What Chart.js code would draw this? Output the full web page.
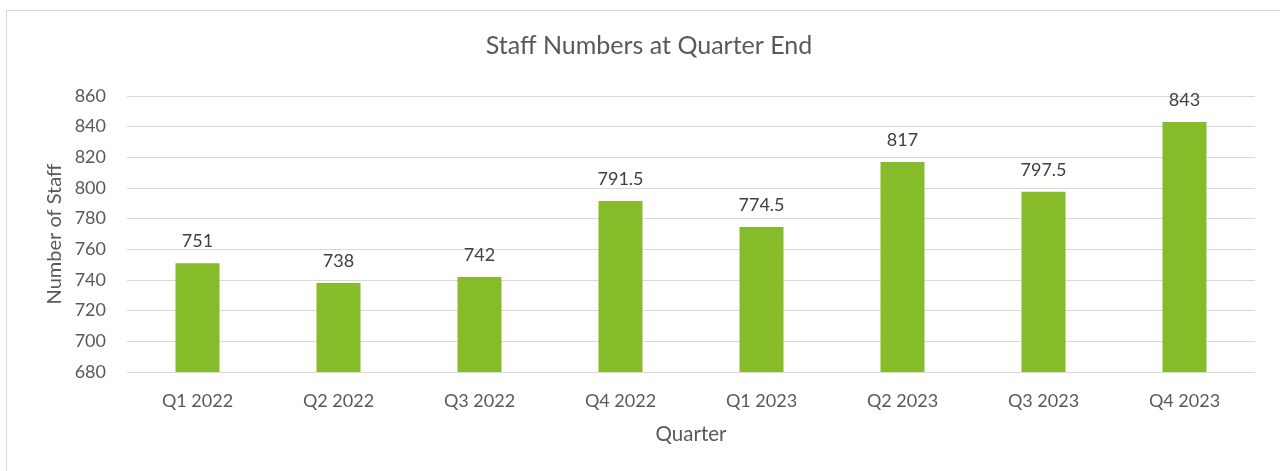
<!DOCTYPE html>
<html>
<head>
<meta charset="utf-8">
<script src="https://cdn.jsdelivr.net/npm/chart.js@4.4.0/dist/chart.umd.min.js"></script>
<style>
  html, body { margin: 0; padding: 0; background: #ffffff; overflow: hidden; }
  #frame { position: absolute; left: 6px; top: 10px; width: 1400px; height: 700px; border: 1px solid #D9D9D9; box-sizing: border-box; }
  #wrap { position: absolute; left: 0; top: 0; width: 1280px; height: 471px; }
</style>
</head>
<body>
<div id="frame"></div>
<div id="wrap"><canvas id="c" width="1280" height="471"></canvas></div>
<script>
const categories = ["Q1 2022", "Q2 2022", "Q3 2022", "Q4 2022", "Q1 2023", "Q2 2023", "Q3 2023", "Q4 2023"];
const staffValues = [751, 738, 742, 791.5, 774.5, 817, 797.5, 843];
const yMin = 680;
const yMax = 860;
const yStep = 20;

const FONT = "Lato";
const TEXT = "#595959";

const dataLabels = {
  id: "dataLabels",
  afterDatasetsDraw(chart) {
    const ctx = chart.ctx;
    ctx.save();
    ctx.font = "18px " + FONT;
    ctx.fillStyle = "#404040";
    ctx.textAlign = "center";
    ctx.textBaseline = "alphabetic";
    chart.getDatasetMeta(0).data.forEach((bar, i) => {
      ctx.fillText(String(staffValues[i]), bar.x, bar.y - 16);
    });
    ctx.restore();
  }
};

new Chart(document.getElementById("c"), {
  type: "bar",
  data: {
    labels: categories,
    datasets: [{
      data: staffValues,
      backgroundColor: "#86BB29",
      borderWidth: 0,
      categoryPercentage: 1,
      barPercentage: 0.312
    }]
  },
  options: {
    responsive: false,
    animation: false,
    devicePixelRatio: 1,
    layout: { padding: { left: 43, right: 25, top: 0, bottom: 24 } },
    plugins: {
      legend: { display: false },
      tooltip: { enabled: false },
      title: {
        display: true,
        text: "Staff Numbers at Quarter End",
        color: TEXT,
        font: { family: FONT, size: 25, weight: "normal" },
        padding: { top: 31, bottom: 35 }
      }
    },
    scales: {
      x: {
        grid: { display: false, drawTicks: false },
        border: { display: false },
        ticks: { color: TEXT, font: { family: FONT, size: 18 }, padding: 18, maxRotation: 0 },
        title: { display: true, text: "Quarter", color: TEXT, font: { family: FONT, size: 20.5 }, padding: { top: 0, bottom: 0 } },
        afterFit(scale) { scale.height = 75; }
      },
      y: {
        min: yMin,
        max: yMax,
        grid: { color: "#D9D9D9", lineWidth: 1, drawTicks: false },
        border: { display: false },
        ticks: { stepSize: yStep, color: TEXT, font: { family: FONT, size: 18 }, padding: 21 },
        title: { display: true, text: "Number of Staff", color: TEXT, font: { family: FONT, size: 20 }, padding: { top: 0, bottom: 0 } },
        afterFit(scale) { scale.width = 84; }
      }
    }
  },
  plugins: [dataLabels]
});
</script>
</body>
</html>
